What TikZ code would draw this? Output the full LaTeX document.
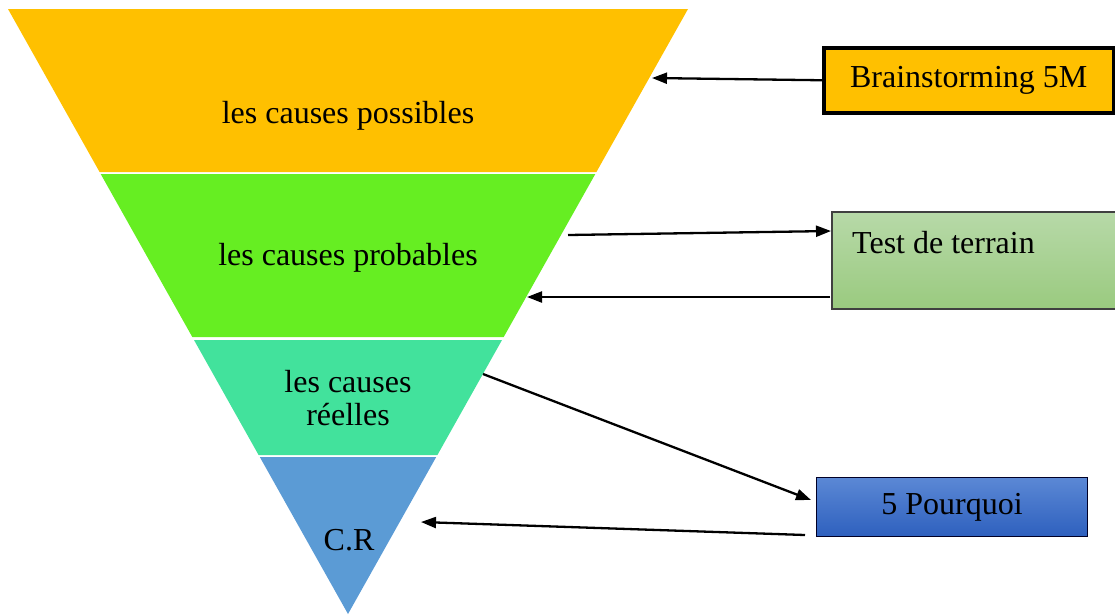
\documentclass[tikz,border=0pt]{standalone}
\usepackage{fontspec}
\setmainfont{Liberation Serif}
\usetikzlibrary{arrows.meta}

\definecolor{layerA}{HTML}{FFC000}
\definecolor{layerB}{HTML}{66EE22}
\definecolor{layerC}{HTML}{42E29C}
\definecolor{layerD}{HTML}{5B9BD5}
\definecolor{greenTop}{HTML}{B7D9A8}
\definecolor{greenBot}{HTML}{9ACA7F}
\definecolor{blueTop}{HTML}{5B88D5}
\definecolor{blueBot}{HTML}{2E60BE}

\tikzset{
  lbl/.style={font=\fontsize{32}{33}\selectfont, align=center, inner sep=0pt},
  toolbox/.style={font=\fontsize{32}{33}\selectfont, inner sep=0pt, anchor=north west},
  link/.style={line width=2.3pt, -{Triangle[length=15pt,width=11pt]}},
}

\begin{document}
\begin{tikzpicture}[x=1pt,y=-1pt]
\useasboundingbox (0,0) rectangle (1115,614);

% funnel layers
\fill[layerA] (8,9) -- (688,9) -- (596.4,172) -- (99.6,172) -- cycle;
\fill[layerB] (100.7,174) -- (595.3,174) -- (503.7,337) -- (192.3,337) -- cycle;
\fill[layerC] (194,340) -- (502,340) -- (437.4,455) -- (258.6,455) -- cycle;
\fill[layerD] (259.8,457) -- (436.2,457) -- (348,614) -- cycle;

% layer labels
\node[lbl] (possibles) at (348,116) {les causes possibles};
\node[lbl] (probables) at (348,258) {les causes probables};
\node[lbl] (reelles) at (348,398) {les causes\\réelles};
\node[lbl] (cr) at (349,540) {C.R};

% tool boxes
\node[toolbox, fill=layerA, draw=black, line width=3.5pt,
      minimum width=290pt, minimum height=65pt, anchor=north west]
      (brain) at (822,46) {Brainstorming 5M};
\path[top color=greenTop, bottom color=greenBot, draw=black!75, line width=1.2pt]
      (832,212) rectangle (1116,309);
\node[toolbox, anchor=west] (terrain) at (852,243) {Test de terrain};
\node[toolbox, top color=blueTop, bottom color=blueBot, draw=black!85!blue,
      line width=1.2pt, minimum width=271pt, minimum height=59pt]
      (pourquoi) at (816,477) {5 Pourquoi};

% connector end points along the funnel
\coordinate (inA) at (652,78);
\coordinate (outB) at (568,235);
\coordinate (inTerrain) at (831,231);
\coordinate (fromTerrain) at (830,297);
\coordinate (inB) at (527,297);
\coordinate (outC) at (483,374);
\coordinate (inPourquoi) at (811,500);
\coordinate (fromPourquoi) at (805,535);
\coordinate (inD) at (421,522);

% connectors
\draw[link] (brain.west) -- (inA);
\draw[link] (outB) -- (inTerrain);
\draw[link] (fromTerrain) -- (inB);
\draw[link] (outC) -- (inPourquoi);
\draw[link] (fromPourquoi) -- (inD);
\end{tikzpicture}
\end{document}
